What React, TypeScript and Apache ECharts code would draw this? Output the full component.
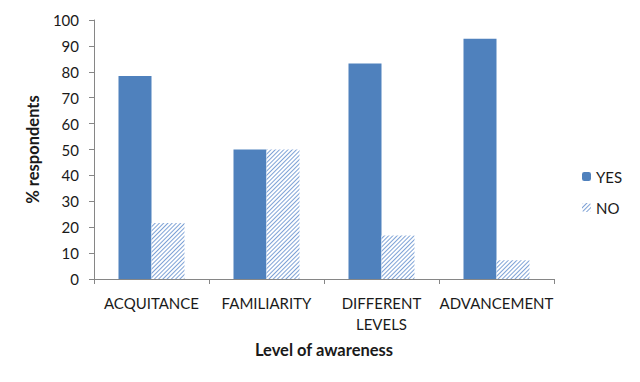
import React, { useEffect, useRef } from "react";
import * as echarts from "echarts";

const categories = ["ACQUITANCE", "FAMILIARITY", "DIFFERENT\nLEVELS", "ADVANCEMENT"];
const yesValues = [78.4, 50, 83.2, 92.8];
const noValues = [21.6, 50, 16.8, 7.2];
const yTicks = { min: 0, max: 100, interval: 10 };

export default function App() {
  const ref = useRef<HTMLDivElement>(null);
  useEffect(() => {
    const chart = echarts.init(ref.current!, null, { renderer: "svg" });
    const font = "Lato, 'Open Sans', sans-serif";
    const textColor = "#1a1a1a";
    chart.setOption({
      animation: false,
      aria: { enabled: false, decal: { show: false } },
      textStyle: { fontFamily: font },
      grid: { left: 94, right: 86, top: 20, bottom: 103 },
      legend: {
        orient: "vertical",
        left: 582,
        top: 169,
        padding: 0,
        itemWidth: 9,
        itemHeight: 9,
        itemGap: 16,
        textStyle: { fontSize: 15, color: textColor, fontFamily: font },
        data: ["YES", "NO"],
      },
      xAxis: {
        type: "category",
        data: categories,
        name: "Level of awareness",
        nameLocation: "middle",
        nameGap: 62,
        nameTextStyle: { fontSize: 16.5, fontWeight: "bold", color: textColor, fontFamily: font },
        axisLine: { lineStyle: { color: "#868686" } },
        axisTick: { show: true, length: 5, lineStyle: { color: "#868686" } },
        axisLabel: { fontSize: 15, color: textColor, margin: 13, interval: 0, lineHeight: 21, fontFamily: font },
      },
      yAxis: {
        type: "value",
        min: yTicks.min,
        max: yTicks.max,
        interval: yTicks.interval,
        name: "% respondents",
        nameLocation: "middle",
        nameGap: 53,
        nameRotate: 90,
        nameTextStyle: { fontSize: 16.5, fontWeight: "bold", color: textColor, fontFamily: font },
        axisLine: { show: true, lineStyle: { color: "#868686" } },
        axisTick: { show: true, length: 5, lineStyle: { color: "#868686" } },
        axisLabel: { fontSize: 15, color: textColor, margin: 15, fontFamily: font },
        splitLine: { show: false },
      },
      series: [
        {
          name: "YES",
          type: "bar",
          data: yesValues,
          barGap: "0%",
          barCategoryGap: "42.6%",
          itemStyle: { color: "#4f81bd" },
        },
        {
          name: "NO",
          type: "bar",
          data: noValues,
          barGap: "0%",
          barCategoryGap: "42.6%",
          itemStyle: {
            color: "#ffffff",
            decal: {
              symbol: "rect",
              color: "#7ea2d6",
              backgroundColor: "#ffffff",
              dashArrayX: [1, 0],
              dashArrayY: [1, 2],
              rotation: -Math.PI / 4,
              symbolSize: 1,
            },
          },
        },
      ],
    });
    return () => chart.dispose();
  }, []);
  return <div ref={ref} style={{ width: 640, height: 382, position: "absolute", left: 0, top: 0 }} />;
}
